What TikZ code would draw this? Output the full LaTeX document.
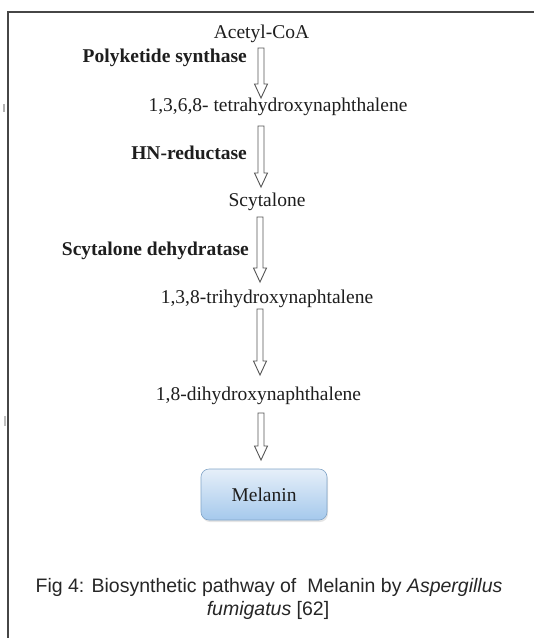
\documentclass[tikz,border=0pt]{standalone}
\usepackage{fontspec}
\setmainfont{Liberation Serif}
\newfontfamily\capfont{Liberation Sans}
\usetikzlibrary{calc,shadows}
\definecolor{txt}{RGB}{30,30,30}
\definecolor{arrdraw}{RGB}{85,85,85}
\definecolor{frame}{RGB}{70,70,70}
\definecolor{boxtop}{RGB}{230,239,249}
\definecolor{boxbot}{RGB}{165,201,236}
\definecolor{boxline}{RGB}{130,165,200}
\tikzset{
  compound/.style={anchor=base, inner sep=0pt, text=txt, font=\fontsize{19.5}{23}\selectfont},
  enzyme/.style={anchor=base east, inner sep=0pt, text=txt, font=\fontsize{19.5}{23}\selectfont\bfseries},
  caption/.style={anchor=base, inner sep=0pt, text=black!85, font=\capfont\fontsize{19.5}{23}\selectfont},
  hollow/.style={draw=arrdraw, line width=0.9pt, fill=white, line join=miter},
  productbox/.style={rounded corners=8pt, minimum width=126pt, minimum height=51pt,
    top color=boxtop, bottom color=boxbot, draw=boxline, line width=0.6pt,
    drop shadow={opacity=0.2, shadow xshift=1pt, shadow yshift=-2pt},
    text=txt, font=\fontsize{19.5}{23}\selectfont},
  frameline/.style={draw=frame, line width=1.4pt}
}
\newcommand\hollowarr[2]{%
  \draw[hollow] ($(#1)+(-3,0)$) -- ($(#2)+(-3,14)$) -- ($(#2)+(-6.5,14)$) -- (#2)
    -- ($(#2)+(6.5,14)$) -- ($(#2)+(3,14)$) -- ($(#1)+(3,0)$) -- cycle;}
\begin{document}
\begin{tikzpicture}[x=1pt,y=1pt]
\useasboundingbox (0,0) rectangle (534,-638);
\fill[white] (0,0) rectangle (534,-638);
% frame
\draw[frameline] (534,-12) -- (8,-12) -- (8,-638);
% small edge marks
\fill[gray!60] (2.5,-104) rectangle (4.5,-112);
\fill[gray!50] (4,-416) rectangle (6,-426);
% compounds
\node[compound] (acoa) at (261.5,-38.7) {Acetyl-CoA};
\node[compound] (thn) at (278,-111) {1,3,6,8- tetrahydroxynaphthalene};
\node[compound] (scy) at (267,-206) {Scytalone};
\node[compound] (trhn) at (267,-303) {1,3,8-trihydroxynaphtalene};
\node[compound] (dhn) at (258.5,-400) {1,8-dihydroxynaphthalene};
\node[productbox] (mel) at (264,-494.5) {Melanin};
% enzymes
\node[enzyme] (pks) at (247,-62.3) {Polyketide synthase};
\node[enzyme] (hnr) at (247,-159) {HN-reductase};
\node[enzyme] (sdh) at (249,-255) {Scytalone dehydratase};
% arrows
\coordinate (a1s) at (261,-48);  \coordinate (a1e) at (261,-98);
\coordinate (a2s) at (261,-126); \coordinate (a2e) at (261,-187);
\coordinate (a3s) at (260,-217); \coordinate (a3e) at (260,-282);
\coordinate (a4s) at (260,-309); \coordinate (a4e) at (260,-375);
\coordinate (a5s) at (261,-413); \coordinate (a5e) at (261,-460);
\hollowarr{a1s}{a1e}
\hollowarr{a2s}{a2e}
\hollowarr{a3s}{a3e}
\hollowarr{a4s}{a4e}
\hollowarr{a5s}{a5e}
% caption
\node[caption] (cap1) at (269,-592) {Fig 4: Biosynthetic pathway of\ \ Melanin by \textit{Aspergillus}};
\node[caption] (cap2) at (268,-615) {\textit{fumigatus} [62]};
\end{tikzpicture}
\end{document}
